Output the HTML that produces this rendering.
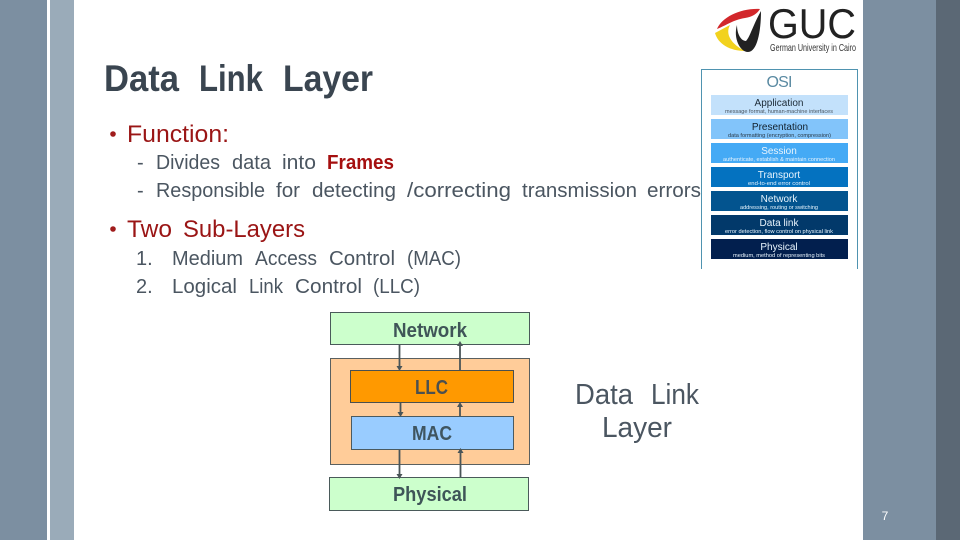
<!DOCTYPE html>
<html lang="en">
<head>
<meta charset="utf-8">
<title>Data Link Layer</title>
<style>
html,body{margin:0;padding:0;background:#fff}
svg{display:block}
text{font-family:"Liberation Sans",sans-serif}
.t{font-size:37px;font-weight:bold;fill:#3a4550}
.h{font-size:24px;fill:#9a1515}
.b{font-size:20px;fill:#4b5661}
.d{font-size:29px;fill:#4b5661}
.m{font-size:20px;font-weight:bold;fill:#3f5558}
.n{font-size:10px;text-anchor:middle}
.s{font-size:5px}
</style>
</head>
<body>
<svg width="960" height="540" viewBox="0 0 960 540" xmlns="http://www.w3.org/2000/svg">
<rect width="960" height="540" fill="#fff"/>
<rect x="0" y="0" width="47" height="540" fill="#7c8fa1"/>
<rect x="50" y="0" width="24" height="540" fill="#9aabb9"/>
<rect x="863" y="0" width="73" height="540" fill="#7c8fa1"/>
<rect x="936" y="0" width="24" height="540" fill="#5b6875"/>

<!-- GUC logo -->
<path d="M717 29 C722 17 741 8 760 9 C757 14 752 17 745 18 C733 20 727 25 717 29Z" fill="#d2272b"/>
<path d="M715 33 L730 25 C725 34 731 44 745 51 C730 51 718 44 715 33Z" fill="#f2d21e"/>
<path d="M737 25 C737 34 741 41 746 41 C750 37 753 25 761 11 C761 32 757 52 748 52 C740 52 733 38 737 25Z" fill="#222"/>
<text x="768" y="38" font-size="42" fill="#222" textLength="88" lengthAdjust="spacingAndGlyphs">GUC</text>
<text x="770" y="51" font-size="10.500" fill="#333" textLength="86" lengthAdjust="spacingAndGlyphs">German University in Cairo</text>

<!-- Title -->
<text class="t" x="104" y="91" textLength="75" lengthAdjust="spacingAndGlyphs">Data</text>
<text class="t" x="199" y="91" textLength="64" lengthAdjust="spacingAndGlyphs">Link</text>
<text class="t" x="283" y="91" textLength="90" lengthAdjust="spacingAndGlyphs">Layer</text>

<!-- Body -->
<circle cx="113" cy="134" r="2.800" fill="#a01c1c"/>
<text class="h" x="127" y="142" textLength="102" lengthAdjust="spacingAndGlyphs">Function:</text>

<text class="b" x="137" y="169">-</text>
<text class="b" x="156" y="169" textLength="64" lengthAdjust="spacingAndGlyphs">Divides</text>
<text class="b" x="232" y="169" textLength="39" lengthAdjust="spacingAndGlyphs">data</text>
<text class="b" x="282" y="169" textLength="34" lengthAdjust="spacingAndGlyphs">into</text>
<text class="b" x="327" y="169" font-weight="bold" style="fill:#a50f0f" textLength="67" lengthAdjust="spacingAndGlyphs">Frames</text>

<text class="b" x="137" y="197">-</text>
<text class="b" x="156" y="197" textLength="109" lengthAdjust="spacingAndGlyphs">Responsible</text>
<text class="b" x="276" y="197" textLength="24" lengthAdjust="spacingAndGlyphs">for</text>
<text class="b" x="312" y="197" textLength="84" lengthAdjust="spacingAndGlyphs">detecting</text>
<text class="b" x="407" y="197" textLength="104" lengthAdjust="spacingAndGlyphs">/correcting</text>
<text class="b" x="522" y="197" textLength="115" lengthAdjust="spacingAndGlyphs">transmission</text>
<text class="b" x="647" y="197" textLength="54" lengthAdjust="spacingAndGlyphs">errors</text>

<circle cx="113" cy="229" r="2.800" fill="#a01c1c"/>
<text class="h" x="127" y="237" textLength="45" lengthAdjust="spacingAndGlyphs">Two</text>
<text class="h" x="183" y="237" textLength="122" lengthAdjust="spacingAndGlyphs">Sub-Layers</text>

<text class="b" x="136" y="265">1.</text>
<text class="b" x="172" y="265" textLength="71" lengthAdjust="spacingAndGlyphs">Medium</text>
<text class="b" x="255" y="265" textLength="62" lengthAdjust="spacingAndGlyphs">Access</text>
<text class="b" x="329" y="265" textLength="66" lengthAdjust="spacingAndGlyphs">Control</text>
<text class="b" x="407" y="265" textLength="54" lengthAdjust="spacingAndGlyphs">(MAC)</text>

<text class="b" x="136" y="293">2.</text>
<text class="b" x="172" y="293" textLength="65" lengthAdjust="spacingAndGlyphs">Logical</text>
<text class="b" x="249" y="293" textLength="34" lengthAdjust="spacingAndGlyphs">Link</text>
<text class="b" x="295" y="293" textLength="67" lengthAdjust="spacingAndGlyphs">Control</text>
<text class="b" x="373" y="293" textLength="47" lengthAdjust="spacingAndGlyphs">(LLC)</text>

<!-- OSI panel -->
<path d="M701.500 269 V69.500 H857.500 V269" fill="none" stroke="#4f93b0" stroke-width="1"/>
<text x="779.500" y="87" font-size="16" fill="#5a8aa2" text-anchor="middle" textLength="26" lengthAdjust="spacing">OSI</text>

<rect x="711" y="95" width="137" height="20" fill="#c3e1fb"/>
<text class="n" x="779" y="106" fill="#1c2a36">Application</text>
<text class="s" x="725" y="113" fill="#4a5560" textLength="108" lengthAdjust="spacingAndGlyphs">message format, human-machine interfaces</text>

<rect x="711" y="119" width="137" height="20" fill="#82c4fa"/>
<text class="n" x="780" y="130" fill="#12202c">Presentation</text>
<text class="s" x="728" y="137" fill="#2a3a48" textLength="103" lengthAdjust="spacingAndGlyphs">data formatting (encryption, compression)</text>

<rect x="711" y="143" width="137" height="20" fill="#45aaf5"/>
<text class="n" x="779" y="154" fill="#e8f4fd">Session</text>
<text class="s" x="723" y="161" fill="#e8f4fd" textLength="112" lengthAdjust="spacingAndGlyphs">authenticate, establish &amp; maintain connection</text>

<rect x="711" y="167" width="137" height="20" fill="#0472c0"/>
<text class="n" x="779" y="178" fill="#e8f4fd">Transport</text>
<text class="s" x="748" y="185" fill="#e8f4fd" textLength="62" lengthAdjust="spacingAndGlyphs">end-to-end error control</text>

<rect x="711" y="191" width="137" height="20" fill="#03548f"/>
<text class="n" x="779" y="202" fill="#e8f4fd">Network</text>
<text class="s" x="740" y="209" fill="#e8f4fd" textLength="78" lengthAdjust="spacingAndGlyphs">addressing, routing or switching</text>

<rect x="711" y="215" width="137" height="20" fill="#02396a"/>
<text class="n" x="779" y="226" fill="#e8f4fd">Data link</text>
<text class="s" x="725" y="233" fill="#e8f4fd" textLength="108" lengthAdjust="spacingAndGlyphs">error detection, flow control on physical link</text>

<rect x="711" y="239" width="137" height="20" fill="#021f4e"/>
<text class="n" x="779" y="250" fill="#e8f4fd">Physical</text>
<text class="s" x="733" y="257" fill="#e8f4fd" textLength="92" lengthAdjust="spacingAndGlyphs">medium, method of representing bits</text>

<!-- Layer diagram -->
<rect x="330.500" y="312.500" width="199" height="32" fill="#ccffcc" stroke="#4a5a5a" stroke-width="1"/>
<rect x="330.500" y="358.500" width="199" height="106" fill="#ffcc99" stroke="#5a6060" stroke-width="1"/>
<rect x="350.500" y="370.500" width="163" height="32" fill="#ff9900" stroke="#4a5050" stroke-width="1"/>
<rect x="351.500" y="416.500" width="162" height="33" fill="#99ccff" stroke="#4a5a60" stroke-width="1"/>
<rect x="329.500" y="477.500" width="199" height="33" fill="#ccffcc" stroke="#4a5a5a" stroke-width="1"/>

<text class="m" x="393" y="337" textLength="74" lengthAdjust="spacingAndGlyphs">Network</text>
<text class="m" x="415" y="394" style="fill:#4a5050" textLength="33" lengthAdjust="spacingAndGlyphs">LLC</text>
<text class="m" x="412" y="440" style="fill:#3f5560" textLength="40" lengthAdjust="spacingAndGlyphs">MAC</text>
<text class="m" x="393" y="501" textLength="74" lengthAdjust="spacingAndGlyphs">Physical</text>

<!-- Connectors -->
<g stroke="#4a5558" stroke-width="1.800" fill="none">
<line x1="399.500" y1="345" x2="399.500" y2="367"/>
<line x1="460" y1="345" x2="460" y2="370"/>
<line x1="400.500" y1="403" x2="400.500" y2="413"/>
<line x1="460" y1="405" x2="460" y2="416"/>
<line x1="399.500" y1="450" x2="399.500" y2="475"/>
<line x1="460.500" y1="452" x2="460.500" y2="477"/>
</g>
<g fill="#4a5558">
<path d="M396.500 366 h6 l-3 5z"/>
<path d="M457 346 h6 l-3 -5z"/>
<path d="M397.500 412 h6 l-3 5z"/>
<path d="M457 407 h6 l-3 -5z"/>
<path d="M396.500 474 h6 l-3 5z"/>
<path d="M457.500 453 h6 l-3 -5z"/>
</g>

<text class="d" x="575" y="404" textLength="58" lengthAdjust="spacingAndGlyphs">Data</text>
<text class="d" x="651" y="404" textLength="48" lengthAdjust="spacingAndGlyphs">Link</text>
<text class="d" x="602" y="437" textLength="70" lengthAdjust="spacingAndGlyphs">Layer</text>

<text x="885" y="520" font-size="12" fill="#fff" text-anchor="middle">7</text>
</svg>
</body>
</html>
